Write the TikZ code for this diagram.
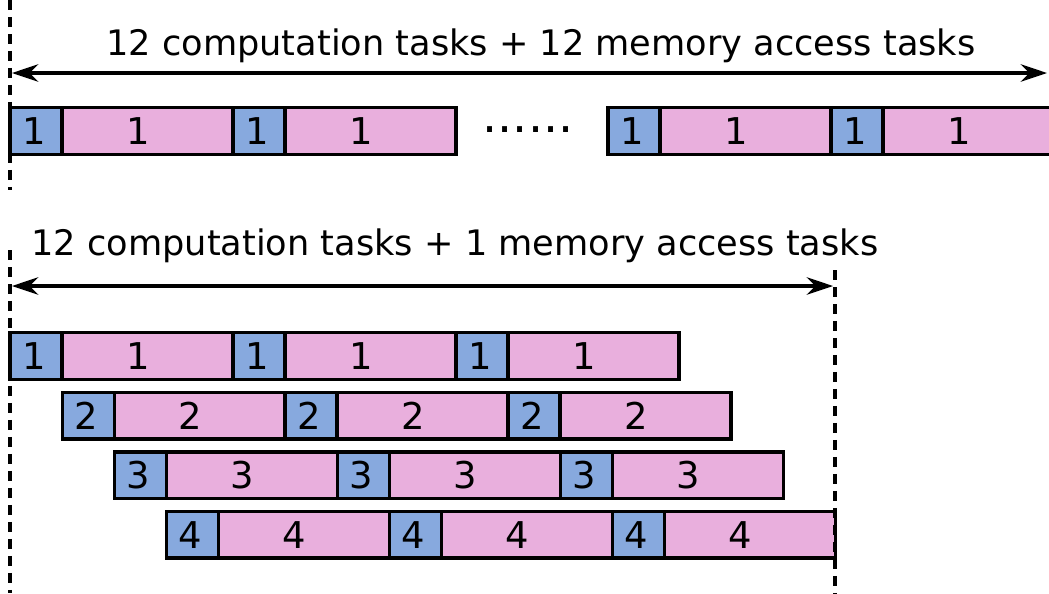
\documentclass[tikz,border=0pt]{standalone}
\usepackage{fontspec}
\setmainfont{DejaVu Sans}
\usetikzlibrary{positioning,arrows.meta}
\definecolor{memblue}{RGB}{135,169,222}
\definecolor{comppink}{RGB}{233,175,221}
\tikzset{mem node/.style={rectangle,fill=memblue,draw,line width=1.9pt,minimum width=1.04cm,minimum height=0.93cm,inner sep=0pt,outer sep=0pt,font=\fontsize{21}{21}\selectfont,execute at end node={\kern0.08cm}},
comp node/.style={mem node,fill=comppink,minimum width=3.42cm,execute at end node={\kern0.3cm}},
span arrow/.style={{Stealth[length=15pt,width=10pt,inset=5pt]}-{Stealth[length=15pt,width=10pt,inset=5pt]},line width=1.8pt},
guide line/.style={line width=2pt,dash pattern=on 0.2cm off 0.14cm},
title/.style={font=\fontsize{20}{20}\selectfont,inner sep=0pt}
}

\begin{document}
\begin{tikzpicture}[x=0.02cm,y=-0.02cm]
	\useasboundingbox (0,0) rectangle (1049,593);
	
	% one memory access per computation
	\node[title] (toptext) at (541,46) {12 computation tasks + 12 memory access tasks};
	\coordinate (tl) at (12,73);
	\coordinate (tr) at (1047,73);
	\draw[span arrow] (tl) -- (tr);
	
	\node[mem node,anchor=west] (a1) at (10,131) {1};
	\node[comp node] (b1) [right=0pt of a1] {1};
	\node[mem node] (a2) [right=0pt of b1] {1};
	\node[comp node] (b2) [right=0pt of a2] {1};
	\node[font=\fontsize{27}{27}\selectfont] (dots) at (528,130) {......};
	\node[mem node,anchor=west] (a3) at (608,131) {1};
	\node[comp node] (b3) [right=0pt of a3] {1};
	\node[mem node] (a4) [right=0pt of b3] {1};
	\node[comp node] (b4) [right=0pt of a4] {1};
	
	\coordinate (g1) at (10,0);
	\coordinate (g2) at (10,190);
	\draw[guide line] (g1) -- (g2);
	
	% one memory access shared by four computations
	\node[title] (bottext) at (455,246) {12 computation tasks + 1 memory access tasks};
	\coordinate (bl) at (12,286);
	\coordinate (br) at (833,286);
	\draw[span arrow] (bl) -- (br);
	
	\foreach \r in {1,...,4}{
		\node[mem node,anchor=west] (m\r1) at ({10+(\r-1)*52.2},{356+(\r-1)*59.6}) {\r};
		\node[comp node] (c\r1) [right=0pt of m\r1] {\r};
		\node[mem node] (m\r2) [right=0pt of c\r1] {\r};
		\node[comp node] (c\r2) [right=0pt of m\r2] {\r};
		\node[mem node] (m\r3) [right=0pt of c\r2] {\r};
		\node[comp node] (c\r3) [right=0pt of m\r3] {\r};
	}
	
	\coordinate (g3) at (10,250);
	\coordinate (g4) at (10,593);
	\coordinate (g5) at (835,270);
	\coordinate (g6) at (835,593);
	\draw[guide line] (g3) -- (g4);
	\draw[guide line] (g5) -- (g6);
	
\end{tikzpicture}
\end{document}
